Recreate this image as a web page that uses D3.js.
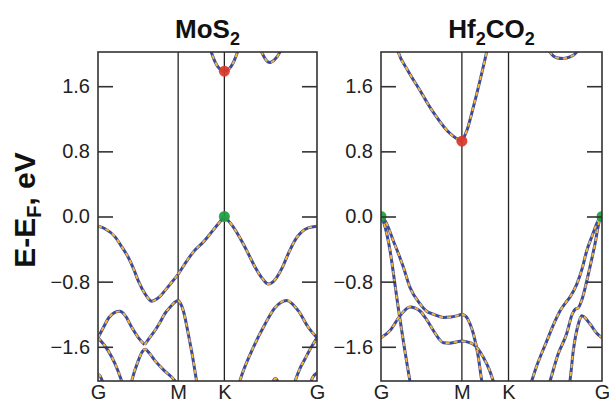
<!DOCTYPE html>
<html>
<head>
<meta charset="utf-8">
<script src="https://cdn.jsdelivr.net/npm/d3@7"></script>
<style>
  html, body { margin: 0; background: #fff; }
  svg { display: block; font-family: "Liberation Sans", Arial, Helvetica, sans-serif; }
</style>
</head>
<body>
<svg id="chart" width="609" height="403"></svg>
<script>
// High-symmetry path G-M-K-G (fractional path length) and energy axis
const kPath = [0, 0.366, 0.577, 1];
const kLabels = ["G", "M", "K", "G"];
const energyTicks = [-1.6, -0.8, 0, 0.8, 1.6];
const energyRange = [-2.02, 2.02];

// MoS2 bands: [k, E - EF in eV]
const mos2Vb1GM = [[0,-0.12],[0.032,-0.15],[0.078,-0.25],[0.108,-0.37],[0.138,-0.50],[0.162,-0.64],[0.184,-0.79],[0.215,-0.95],[0.245,-1.04],[0.27,-1.01],[0.29,-0.96],[0.315,-0.88],[0.336,-0.81],[0.366,-0.71]];
const mos2Vb1MK = [[0.366,-0.71],[0.397,-0.58],[0.443,-0.41],[0.475,-0.33],[0.504,-0.24],[0.54,-0.12],[0.577,0]];
const mos2Vb1KG = [[0.577,0],[0.61,-0.1],[0.656,-0.30],[0.687,-0.46],[0.717,-0.62],[0.75,-0.76],[0.778,-0.83],[0.81,-0.77],[0.839,-0.64],[0.87,-0.45],[0.90,-0.29],[0.93,-0.19],[0.96,-0.14],[1,-0.12]];
const mos2Vb2a = [[0,-1.49],[0.025,-1.36],[0.05,-1.24],[0.075,-1.18],[0.1,-1.165],[0.125,-1.22],[0.154,-1.36],[0.185,-1.49],[0.213,-1.575]];
const mos2Vb2b = [[0.213,-1.575],[0.235,-1.49],[0.26,-1.40],[0.285,-1.29],[0.306,-1.19],[0.33,-1.11],[0.352,-1.05],[0.366,-1.03]];
const mos2Vb2c = [[0.366,-1.03],[0.375,-1.06],[0.39,-1.16],[0.412,-1.44],[0.435,-1.77],[0.45,-2.02],[0.46,-2.2]];
const mos2Vb3 = [[0,-1.49],[0.047,-1.65],[0.078,-1.81],[0.108,-2.02],[0.12,-2.12]];
const mos2Vb4 = [[0.14,-2.2],[0.154,-2.02],[0.184,-1.77],[0.2,-1.67],[0.215,-1.63],[0.235,-1.68],[0.26,-1.77],[0.306,-1.90],[0.352,-2.02],[0.37,-2.1]];
const mos2Vb5 = [[0,-1.94],[0.01,-1.96],[0.02,-2.02],[0.03,-2.1]];
const mos2Vb6 = [[0.63,-2.2],[0.648,-2.02],[0.702,-1.65],[0.763,-1.32],[0.808,-1.12],[0.862,-1.03],[0.915,-1.16],[0.96,-1.36],[1,-1.49]];
const mos2Vb7 = [[0.89,-2.1],[0.90,-2.02],[0.92,-1.88],[0.945,-1.75],[0.975,-1.6],[1,-1.49]];
const mos2Vb8 = [[0.965,-2.1],[0.98,-1.98],[1,-1.92]];
const mos2Vb9 = [[0.79,-2.1],[0.80,-2.02],[0.81,-1.99],[0.82,-2.02],[0.83,-2.1]];
const mos2Cb1 = [[0.5,2.17],[0.517,2.02],[0.547,1.84],[0.577,1.785],[0.607,1.84],[0.637,2.02],[0.654,2.17]];
const mos2Cb2 = [[0.73,2.12],[0.747,2.02],[0.765,1.93],[0.785,1.89],[0.808,1.93],[0.831,2.02],[0.845,2.12]];

// Hf2CO2 bands: [k, E - EF in eV]
const hfCb1GM = [[0.06,2.2],[0.078,2.02],[0.12,1.80],[0.176,1.55],[0.215,1.37],[0.252,1.22],[0.285,1.10],[0.312,1.02],[0.34,0.96],[0.366,0.925]];
const hfCb1MK = [[0.366,0.925],[0.389,1.06],[0.418,1.345],[0.448,1.67],[0.478,2.02],[0.49,2.17]];
const hfCb2 = [[0.75,2.12],[0.765,2.02],[0.795,1.95],[0.825,1.94],[0.855,1.96],[0.886,2.02],[0.9,2.12]];
const hfVb1GM = [[0,0],[0.02,-0.06],[0.056,-0.30],[0.101,-0.62],[0.131,-0.87],[0.176,-1.07],[0.205,-1.16],[0.237,-1.20],[0.282,-1.24],[0.315,-1.235],[0.342,-1.22],[0.366,-1.20]];
const hfVb1MK = [[0.366,-1.20],[0.375,-1.21],[0.388,-1.24],[0.403,-1.32],[0.418,-1.44],[0.44,-1.72],[0.456,-2.02],[0.465,-2.15]];
const hfVb2 = [[0,0],[0.012,-0.07],[0.026,-0.21],[0.041,-0.42],[0.063,-0.83],[0.078,-1.12],[0.101,-1.53],[0.131,-2.02],[0.14,-2.15]];
const hfVb3GM = [[0,-1.49],[0.041,-1.40],[0.086,-1.22],[0.131,-1.11],[0.176,-1.16],[0.205,-1.26],[0.237,-1.40],[0.262,-1.50],[0.282,-1.55],[0.31,-1.555],[0.34,-1.54],[0.366,-1.53]];
const hfVb3MK = [[0.366,-1.53],[0.39,-1.54],[0.418,-1.57],[0.44,-1.63],[0.463,-1.73],[0.49,-1.88],[0.508,-2.02],[0.52,-2.12]];
const hfVbG1 = [[0.665,-2.15],[0.682,-2.02],[0.70,-1.87],[0.75,-1.53],[0.78,-1.33],[0.81,-1.16],[0.835,-1.06],[0.855,-0.99],[0.886,-0.83],[0.91,-0.64],[0.931,-0.42],[0.955,-0.24],[0.983,-0.05],[1,0]];
const hfVbG2 = [[0.75,-2.15],[0.765,-2.02],[0.80,-1.70],[0.84,-1.44],[0.865,-1.20],[0.878,-1.14],[0.893,-1.12],[0.908,-1.03],[0.938,-0.71],[0.968,-0.34],[0.991,-0.03],[1,0]];
const hfVbG3 = [[0.845,-2.15],[0.855,-2.02],[0.87,-1.65],[0.893,-1.32],[0.908,-1.22],[0.946,-1.32],[0.975,-1.43],[1,-1.49]];

// Band edges: valence maximum and conduction minimum
const mos2Edges = [{k:0.577, E:0, kind:"vbm"}, {k:0.577, E:1.785, kind:"cbm"}];
const hfEdges = [{k:0, E:0, kind:"vbm"}, {k:1, E:0, kind:"vbm"}, {k:0.366, E:0.925, kind:"cbm"}];

const panels = [
  { id: "mos2", title: [["MoS", false], ["2", true]], x0: 98, x1: 317,
    bands: [mos2Vb1GM, mos2Vb1MK, mos2Vb1KG, mos2Vb2a, mos2Vb2b, mos2Vb2c, mos2Vb3, mos2Vb4, mos2Vb5, mos2Vb6, mos2Vb7, mos2Vb8, mos2Vb9, mos2Cb1, mos2Cb2],
    edges: mos2Edges },
  { id: "hf2co2", title: [["Hf", false], ["2", true], ["CO", false], ["2", true]], x0: 381, x1: 602,
    bands: [hfCb1GM, hfCb1MK, hfCb2, hfVb1GM, hfVb1MK, hfVb2, hfVb3GM, hfVb3MK, hfVbG1, hfVbG2, hfVbG3],
    edges: hfEdges }
];

const plotTop = 52, plotBottom = 381;
const svg = d3.select("#chart");
const y = d3.scaleLinear().domain(energyRange).range([plotBottom, plotTop]);
const edgeColor = { vbm: "#1f9d3f", cbm: "#d9362a" };

panels.forEach(p => {
  const x = d3.scaleLinear().domain([0, 1]).range([p.x0, p.x1]);
  const g = svg.append("g");

  g.append("clipPath").attr("id", "clip-" + p.id)
    .append("rect").attr("x", p.x0).attr("y", plotTop)
    .attr("width", p.x1 - p.x0).attr("height", plotBottom - plotTop);

  // high-symmetry separators at M and K
  g.selectAll("line.sym").data(kPath.slice(1, 3)).join("line")
    .attr("class", "sym")
    .attr("x1", d => x(d)).attr("x2", d => x(d))
    .attr("y1", plotTop).attr("y2", plotBottom)
    .attr("stroke", "#222").attr("stroke-width", 1.3);

  // bands: blue line with orange dashes on top
  const line = d3.line().x(d => x(d[0])).y(d => y(d[1])).curve(d3.curveMonotoneX);
  const bandsG = g.append("g").attr("clip-path", `url(#clip-${p.id})`);
  bandsG.selectAll("path.base").data(p.bands).join("path")
    .attr("class", "base").attr("d", line)
    .attr("fill", "none").attr("stroke", "#3a4b9c").attr("stroke-width", 3)
    .attr("stroke-linecap", "butt");
  bandsG.selectAll("path.dash").data(p.bands).join("path")
    .attr("class", "dash").attr("d", line)
    .attr("fill", "none").attr("stroke", "#f7b538").attr("stroke-width", 1.9)
    .attr("stroke-dasharray", "4,4");

  bandsG.selectAll("circle").data(p.edges).join("circle")
    .attr("cx", d => x(d.k)).attr("cy", d => y(d.E)).attr("r", 5.5)
    .attr("fill", d => edgeColor[d.kind]).attr("opacity", 0.92);

  g.append("rect").attr("x", p.x0).attr("y", plotTop)
    .attr("width", p.x1 - p.x0).attr("height", plotBottom - plotTop)
    .attr("fill", "none").attr("stroke", "#333").attr("stroke-width", 1.6);

  const yLeft = g.append("g").attr("transform", `translate(${p.x0},0)`)
    .call(d3.axisLeft(y).tickValues(energyTicks).tickFormat(d3.format(".1f"))
      .tickSizeInner(-15).tickSizeOuter(0).tickPadding(8));
  const yRight = g.append("g").attr("transform", `translate(${p.x1},0)`)
    .call(d3.axisRight(y).tickValues(energyTicks).tickFormat("")
      .tickSizeInner(-15).tickSizeOuter(0));
  const xAxis = g.append("g").attr("transform", `translate(0,${plotBottom})`)
    .call(d3.axisBottom(x).tickValues(kPath).tickFormat((d, i) => kLabels[i])
      .tickSize(0).tickPadding(4));

  [yLeft, yRight, xAxis].forEach(a => {
    a.select(".domain").remove();
    a.selectAll(".tick line").attr("stroke", "#333").attr("stroke-width", 1.6);
    a.selectAll(".tick text").attr("font-size", 20).attr("fill", "#222")
      .attr("font-family", '"Liberation Sans", Arial, sans-serif');
  });

  // panel title with subscripts
  const t = g.append("text").attr("x", (p.x0 + p.x1) / 2).attr("y", 38)
    .attr("text-anchor", "middle").attr("font-weight", "bold")
    .attr("font-size", 26).attr("fill", "#111");
  let shifted = false;
  p.title.forEach(([s, sub]) => {
    const ts = t.append("tspan").text(s);
    if (sub && !shifted) { ts.attr("dy", 7).attr("font-size", 18); shifted = true; }
    else if (sub) { ts.attr("font-size", 18); }
    else if (shifted) { ts.attr("dy", -7); shifted = false; }
  });
});

// energy axis label
const yl = svg.append("text")
  .attr("transform", "translate(35,210) rotate(-90)")
  .attr("text-anchor", "middle").attr("font-weight", "bold")
  .attr("font-size", 30).attr("fill", "#111");
yl.append("tspan").text("E-E");
yl.append("tspan").text("F").attr("font-size", 20).attr("dy", 6);
yl.append("tspan").text(", eV").attr("dy", -6);
</script>
</body>
</html>
